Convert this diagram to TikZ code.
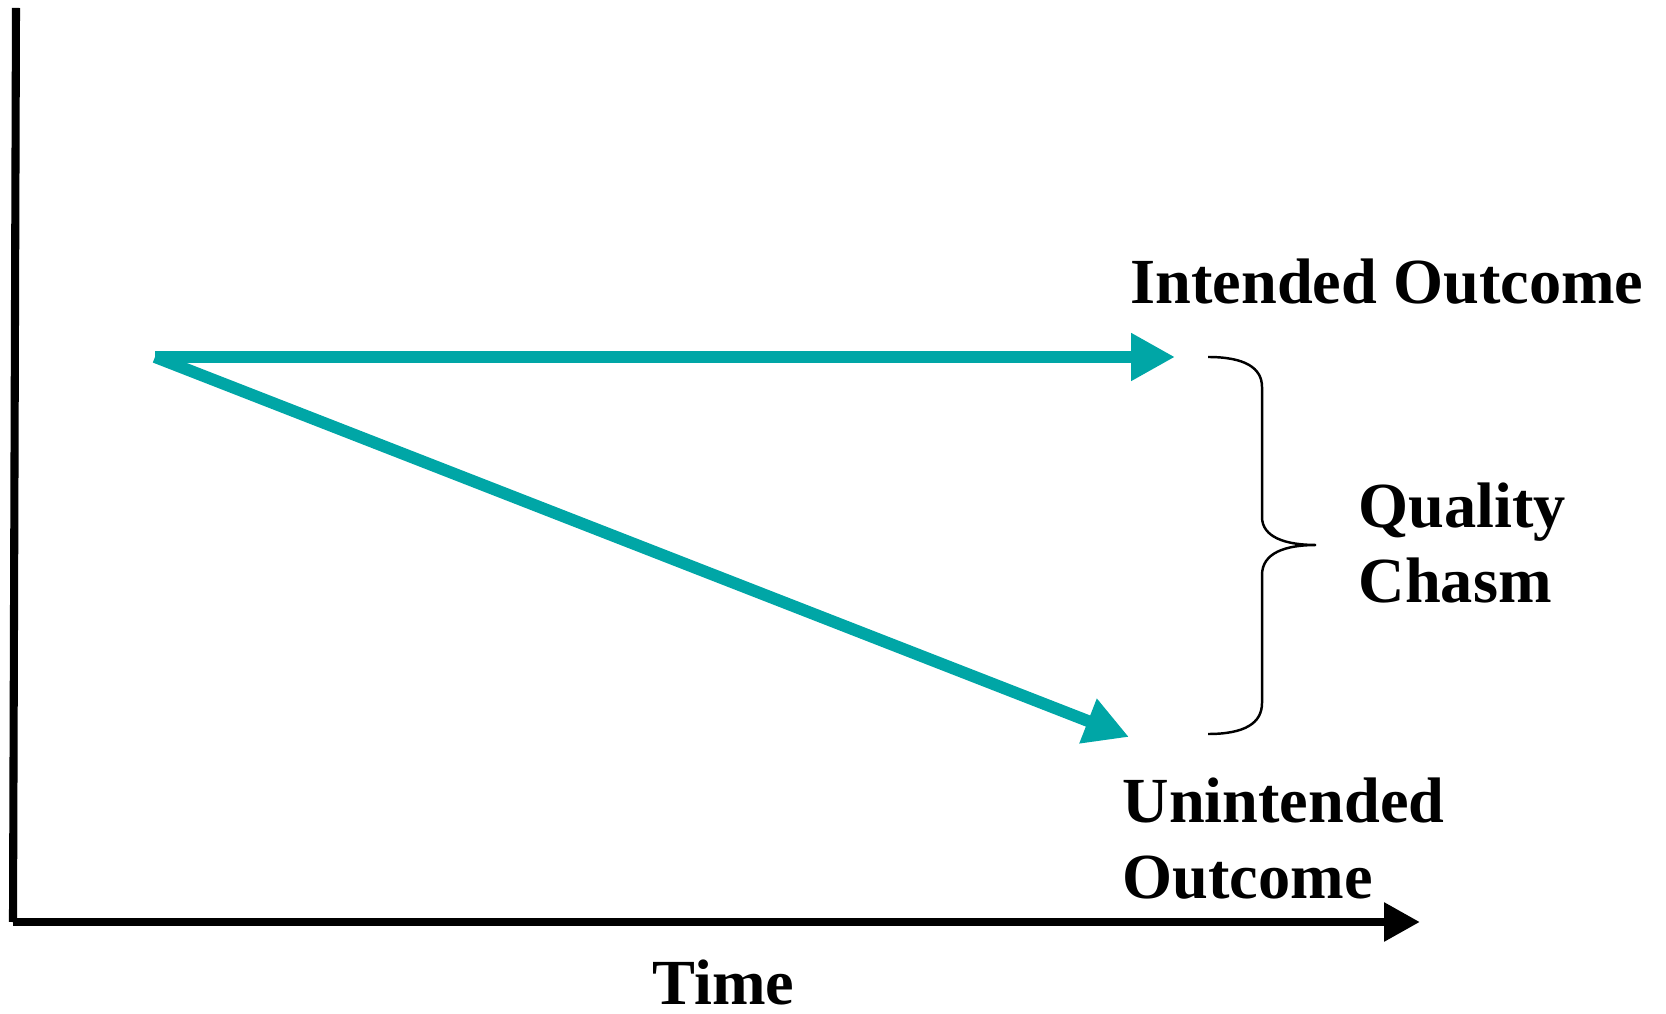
\documentclass[tikz,border=0pt]{standalone}
\usepackage{fontspec}
\setmainfont{Liberation Serif}
\usepackage{tikz}
\usetikzlibrary{positioning, arrows.meta}

\definecolor{chasmteal}{RGB}{0,166,166}

\begin{document}
\begin{tikzpicture}[
    label/.style={inner sep=0pt, anchor=base west, align=left, font=\fontsize{18.3}{21.6}\selectfont\bfseries},
    axis/.style={line width=2.5pt, black},
    trend/.style={line width=3.4pt, chasmteal, -{Triangle[length=0.44cm, width=0.45cm]}},
    brace/.style={line width=0.7pt, black}
]
    \useasboundingbox (0,0) rectangle (16.66,10.13);

    % axes
    \coordinate (ytop) at (0.16,10.05);
    \coordinate (origin) at (0.13,0.91);
    \coordinate (xtip) at (14.20,0.91);
    \draw[axis, line width=2.3pt] (ytop) -- (origin);
    \draw[axis, -{Triangle[length=0.36cm, width=0.37cm]}] (origin) -- (xtip);

    % outcomes
    \coordinate (start) at (1.55,6.56);
    \coordinate (goal) at (11.75,6.56);
    \coordinate (drift) at (11.29,2.76);
    \draw[trend] (start) -- (goal);
    \draw[trend] (start) -- (drift);

    % the chasm
    \coordinate (btop) at (12.08,6.56);
    \coordinate (btip) at (13.16,4.68);
    \coordinate (bbot) at (12.08,2.79);
    \draw[brace] (btop) .. controls (12.45,6.56) and (12.62,6.45) .. (12.62,6.26)
        -- (12.62,4.96) .. controls (12.62,4.76) and (12.85,4.68) .. (btip)
        .. controls (12.85,4.68) and (12.62,4.60) .. (12.62,4.38)
        -- (12.62,3.10) .. controls (12.62,2.90) and (12.45,2.79) .. (bbot);

    % base of a two-line label is its last line
    \node[label] (intended) at (11.30,7.09) {Intended Outcome};
    \node[label] (quality) at (13.58,4.10) {Quality\\Chasm};
    \node[label] (unintended) at (11.22,1.15) {Unintended\\Outcome};
    \node[label] (time) at (6.52,0.09) {Time};
\end{tikzpicture}
\end{document}
